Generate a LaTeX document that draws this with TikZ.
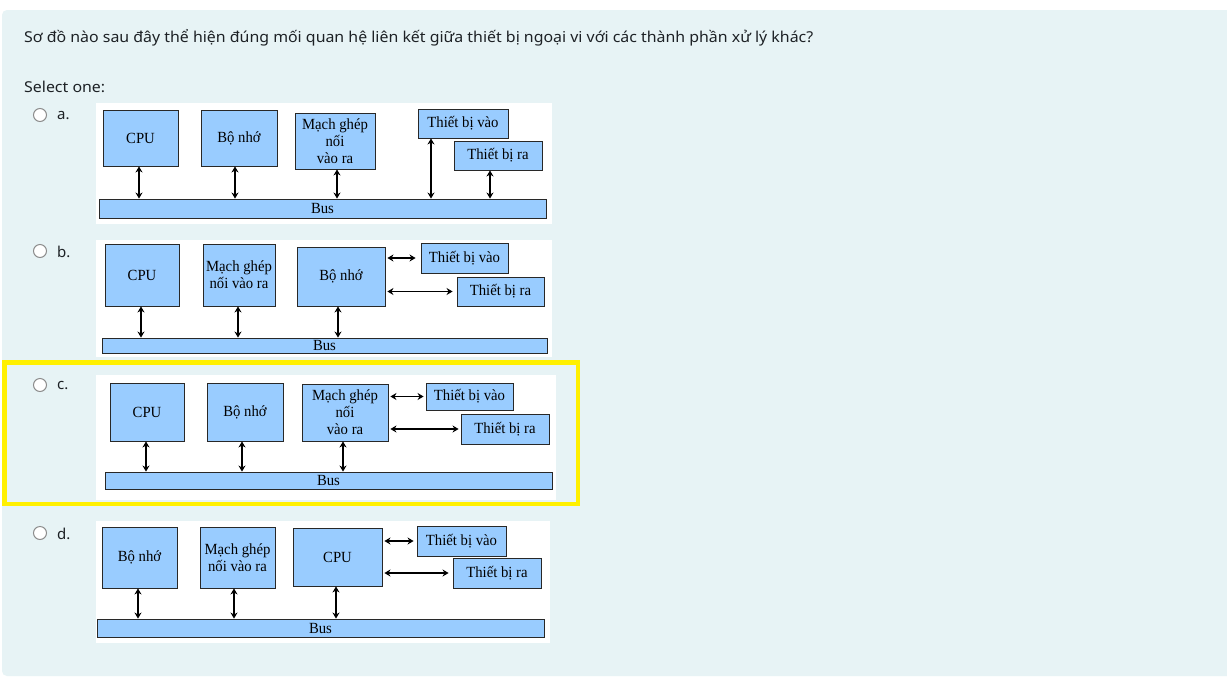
\documentclass[tikz,border=0pt]{standalone}
\usepackage{fontspec}
\usepackage{graphicx}
\usetikzlibrary{arrows.meta}
\setmainfont{Noto Sans}
\newfontfamily\qfont{Noto Sans}
\newfontfamily\boxfont{Liberation Serif}[FakeStretch=0.95]
\definecolor{panel}{RGB}{231,243,245}
\definecolor{qtext}{RGB}{29,33,37}
\definecolor{boxfill}{RGB}{153,204,255}
\definecolor{boxline}{RGB}{40,40,40}
\definecolor{hl}{RGB}{255,240,0}
\definecolor{radio}{RGB}{140,140,140}
\tikzset{
  box/.style={draw=boxline,fill=boxfill,line width=0.9pt,inner sep=1pt,align=center,
    font=\boxfont\fontsize{15.5}{17}\selectfont,text=black},
  arr/.style={line width=1.7pt,{Stealth[length=6pt,width=7pt]}-{Stealth[length=6pt,width=7pt]}},
  radiobtn/.style={circle,draw=radio,fill=white,line width=1pt,minimum size=13pt,inner sep=0pt},
  optlabel/.style={anchor=west,inner sep=0pt,font=\qfont\fontsize{15}{18}\selectfont,text=qtext},
  sheet/.style={fill=white}
}
\newcommand\mybox[6]{\node[box,minimum width={#4-#2},minimum height={#5-#3}] (#1) at ({(#2+#4)/2},{(#3+#5)/2}) {#6};}
\begin{document}
\begin{tikzpicture}[x=1pt,y=-1pt]
\useasboundingbox (0,0) rectangle (1227,697);
\clip (0,0) rectangle (1227,697);
\fill[white] (0,0) rectangle (1227,697);
\fill[panel,rounded corners=5pt] (2,10) rectangle (1240,676);
% question
\node[anchor=west,inner sep=0pt,text=qtext] (q) at (24,38) {\resizebox{789pt}{\height}{\qfont\fontsize{15}{18}\selectfont Sơ đồ nào sau đây thể hiện đúng mối quan hệ liên kết giữa thiết bị ngoại vi với các thành phần xử lý khác?}};
\node[anchor=west,inner sep=0pt,text=qtext] (sel) at (24,87) {\resizebox{81pt}{\height}{\qfont\fontsize{15}{18}\selectfont Select one:}};
% highlight
\draw[hl,line width=4.5pt] (4.25,362.25) rectangle (577.75,503.75);
% radio buttons
\node[radiobtn] (ra) at (40,115) {};
\node[optlabel] (la) at (57,116) {a.};
\node[radiobtn] (rb) at (40,251) {};
\node[optlabel] (lb) at (57,252) {b.};
\node[radiobtn] (rc) at (40,385) {};
\node[optlabel] (lc) at (57,386) {c.};
\node[radiobtn] (rd) at (40,533) {};
\node[optlabel] (ld) at (57,534) {d.};
% white sheets
\fill[sheet] (96,103) rectangle (552,224);
\fill[sheet] (96,240) rectangle (552,357);
\fill[sheet] (96,375) rectangle (556,500);
\fill[sheet] (96,521) rectangle (550,643);
% ---------- a ----------
\mybox{cpuA}{103}{110}{178}{166}{CPU}
\mybox{bnA}{201}{110}{277}{166}{Bộ nhớ}
\mybox{mgA}{295}{113}{375}{169}{Mạch ghép\\nối\\vào ra}
\mybox{vaoA}{418}{109}{508}{138}{Thiết bị vào}
\mybox{raA}{454}{141}{542}{170}{Thiết bị ra}
\mybox{busA}{99}{199}{546}{218}{Bus}
\draw[arr] ([xshift=-1.5pt]cpuA.south) -- ([xshift=-1.5pt]cpuA.south |- busA.north);
\draw[arr] ([xshift=-4pt]bnA.south) -- ([xshift=-4pt]bnA.south |- busA.north);
\draw[arr] ([xshift=2pt]mgA.south) -- ([xshift=2pt]mgA.south |- busA.north);
\draw[arr] ([xshift=-32pt]vaoA.south) -- ([xshift=-32pt]vaoA.south |- busA.north);
\draw[arr] ([xshift=-8pt]raA.south) -- ([xshift=-8pt]raA.south |- busA.north);
% ---------- b ----------
\mybox{cpuB}{105}{244}{179}{306}{CPU}
\mybox{mgB}{203}{244}{275}{306}{Mạch ghép\\nối vào ra}
\mybox{bnB}{297}{247}{385}{306}{Bộ nhớ}
\mybox{vaoB}{421}{243}{508}{273}{Thiết bị vào}
\mybox{raB}{457}{277}{544}{306}{Thiết bị ra}
\mybox{busB}{102}{338}{547}{353}{Bus}
\draw[arr] ([xshift=-1pt]cpuB.south) -- ([xshift=-1pt]cpuB.south |- busB.north);
\draw[arr] ([xshift=-1pt]mgB.south) -- ([xshift=-1pt]mgB.south |- busB.north);
\draw[arr] ([xshift=-3pt]bnB.south) -- ([xshift=-3pt]bnB.south |- busB.north);
\draw[arr] ([xshift=2pt]bnB.east |- vaoB.west) -- ([xshift=-5pt]vaoB.west);
\draw[arr] ([xshift=2pt]bnB.east |- raB.west) -- ([xshift=-4pt]raB.west);
% ---------- c ----------
\mybox{cpuC}{110}{383}{184}{441}{CPU}
\mybox{bnC}{207}{383}{283}{441}{Bộ nhớ}
\mybox{mgC}{302}{384}{388}{441}{Mạch ghép\\nối\\vào ra}
\mybox{vaoC}{426}{383}{513}{410}{Thiết bị vào}
\mybox{raC}{461}{414}{549}{444}{Thiết bị ra}
\mybox{busC}{105}{472}{552}{489}{Bus}
\draw[arr] ([xshift=-1pt]cpuC.south) -- ([xshift=-1pt]cpuC.south |- busC.north);
\draw[arr] ([xshift=-3pt]bnC.south) -- ([xshift=-3pt]bnC.south |- busC.north);
\draw[arr] ([xshift=-2pt]mgC.south) -- ([xshift=-2pt]mgC.south |- busC.north);
\draw[arr] ([xshift=2pt]mgC.east |- vaoC.west) -- ([xshift=-2pt]vaoC.west);
\draw[arr] ([xshift=2pt]mgC.east |- raC.west) -- ([xshift=-2pt]raC.west);
% ---------- d ----------
\mybox{bnD}{102}{527}{177}{588}{Bộ nhớ}
\mybox{mgD}{200}{527}{275}{588}{Mạch ghép\\nối vào ra}
\mybox{cpuD}{293}{528}{382}{586}{CPU}
\mybox{vaoD}{417}{526}{506}{556}{Thiết bị vào}
\mybox{raD}{453}{558}{541}{588}{Thiết bị ra}
\mybox{busD}{97}{619}{544}{637}{Bus}
\draw[arr] ([xshift=-1.5pt]bnD.south) -- ([xshift=-1.5pt]bnD.south |- busD.north);
\draw[arr] ([xshift=-3.5pt]mgD.south) -- ([xshift=-3.5pt]mgD.south |- busD.north);
\draw[arr] ([xshift=-1.5pt]cpuD.south) -- ([xshift=-1.5pt]cpuD.south |- busD.north);
\draw[arr] ([xshift=2pt]cpuD.east |- vaoD.west) -- ([xshift=-3pt]vaoD.west);
\draw[arr] ([xshift=2pt]cpuD.east |- raD.west) -- ([xshift=-4pt]raD.west);
\end{tikzpicture}
\end{document}
